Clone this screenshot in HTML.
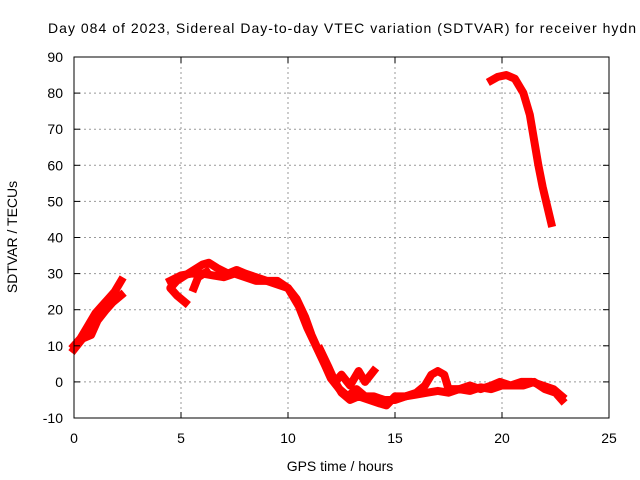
<!DOCTYPE html>
<html><head><meta charset="utf-8"><style>
body{margin:0;background:#fff;}
svg{display:block;font-family:"Liberation Sans",sans-serif;}
</style></head><body>
<svg id="c" width="640" height="480" viewBox="0 0 640 480">
<text x="48" y="33" font-size="14" textLength="588" lengthAdjust="spacing" fill="#000">Day 084 of 2023, Sidereal Day-to-day VTEC variation (SDTVAR) for receiver hydn</text>
<g id="grid"></g>
<g id="series"></g>
<rect x="74" y="57" width="535" height="361" fill="none" stroke="#000" stroke-width="1"/>
<g id="ticks"></g>
<text x="340" y="471" font-size="14" text-anchor="middle">GPS time / hours</text>
<text transform="translate(17,237) rotate(-90)" font-size="14" text-anchor="middle">SDTVAR / TECUs</text>
</svg>
<script>
const xTicks=[0,5,10,15,20,25];
const yTicks=[-10,0,10,20,30,40,50,60,70,80,90];
const trackA1=[[0,10],[0.3,12],[0.6,15],[1,19],[1.3,21],[1.6,23],[1.9,25],[2.2,28]];
const trackA2=[[0,9],[0.4,12],[0.8,13],[1.1,17],[1.5,20],[1.8,22],[2.2,24]];
const trackB1=[[5.2,22],[4.8,24],[4.5,26],[4.8,28],[5.2,29.5],[5.6,31],[6,32.5],[6.3,33],[6.7,31.5],[7.2,30],[7.6,31],[8,30],[8.5,29],[9,28],[9.5,28],[10,26],[10.4,23],[10.8,18],[11.1,13],[11.4,9],[11.8,5],[12.1,1],[12.5,-3],[12.9,-5],[13.3,-4],[13.8,-5],[14.3,-6],[14.6,-6.5],[15,-4],[15.5,-4],[16,-3],[16.4,-1],[16.7,2],[17,3],[17.3,2],[17.5,-2],[18,-2],[18.5,-1],[19,-2],[19.5,-1],[19.9,0],[20.4,-1],[20.9,0],[21.4,0],[21.9,-1],[22.4,-2],[22.8,-4]];
const trackB2=[[4.5,28],[5,29.5],[5.5,30],[6,30],[6.5,29.5],[7,29],[7.5,30],[8,29],[8.5,28],[9,28],[9.5,27],[10,26],[10.5,21],[10.9,15],[11.3,10],[11.7,5],[12,1],[12.4,-2],[12.8,-4],[13.2,-2],[13.6,-4],[14,-4],[14.5,-5],[15,-5],[15.5,-4],[16,-3.5],[16.5,-3],[17,-2.5],[17.5,-3],[18,-2],[18.5,-2.5],[19,-1.5],[19.5,-2],[20,-1],[20.5,-1],[21,-1],[21.5,0],[22,-2],[22.5,-3],[22.8,-5]];
const trackB3=[[5.6,26],[5.8,29],[6.2,30.5]];
const trackB4=[[11.5,9],[11.9,4],[12.2,0],[12.5,2],[12.9,-1],[13.3,3],[13.6,0],[14,3]];
const trackC=[[19.5,83.5],[19.8,84.5],[20.2,85],[20.6,84],[21,80],[21.3,74],[21.5,67],[21.7,60],[21.9,54],[22.1,49],[22.3,44]];
const tracks=[trackA1,trackA2,trackB1,trackB2,trackB3,trackB4,trackC];
const X=h=>74+h*21.4, Y=v=>418-(v+10)*3.61;
const NS="http://www.w3.org/2000/svg";
const grid=document.getElementById('grid'),ticks=document.getElementById('ticks'),ser=document.getElementById('series');
function mk(tag,attrs,parent){const e=document.createElementNS(NS,tag);for(const k in attrs)e.setAttribute(k,attrs[k]);parent.appendChild(e);return e;}
xTicks.forEach(t=>{
 if(t>0&&t<25){const g=mk('line',{x1:X(t),x2:X(t),y1:57,y2:418,stroke:'#999','stroke-dasharray':'2,3'},grid);
 
 }
 mk('line',{x1:X(t),x2:X(t),y1:418,y2:412,stroke:'#000'},ticks);
 mk('line',{x1:X(t),x2:X(t),y1:57,y2:63,stroke:'#000'},ticks);
 const l=mk('text',{x:X(t),y:443,'font-size':14,'text-anchor':'middle'},ticks);l.textContent=t;
 
 
});
yTicks.forEach(t=>{
 if(t>-10&&t<90){const g=mk('line',{x1:74,x2:609,y1:Y(t),y2:Y(t),stroke:'#999','stroke-dasharray':'2,3'},grid);
 
 }
 mk('line',{x1:74,x2:80,y1:Y(t),y2:Y(t),stroke:'#000'},ticks);
 mk('line',{x1:609,x2:603,y1:Y(t),y2:Y(t),stroke:'#000'},ticks);
 const l=mk('text',{x:63,y:Y(t)+5,'font-size':14,'text-anchor':'end'},ticks);l.textContent=t;
 
 
});
tracks.forEach(tr=>{
 const p=mk('polyline',{points:tr.map(d=>X(d[0])+','+Y(d[1])).join(' '),fill:'none',stroke:'#ff0000','stroke-width':8,'stroke-linejoin':'round','stroke-linecap':'square'},ser);
 
 
});
</script>
</body></html>
